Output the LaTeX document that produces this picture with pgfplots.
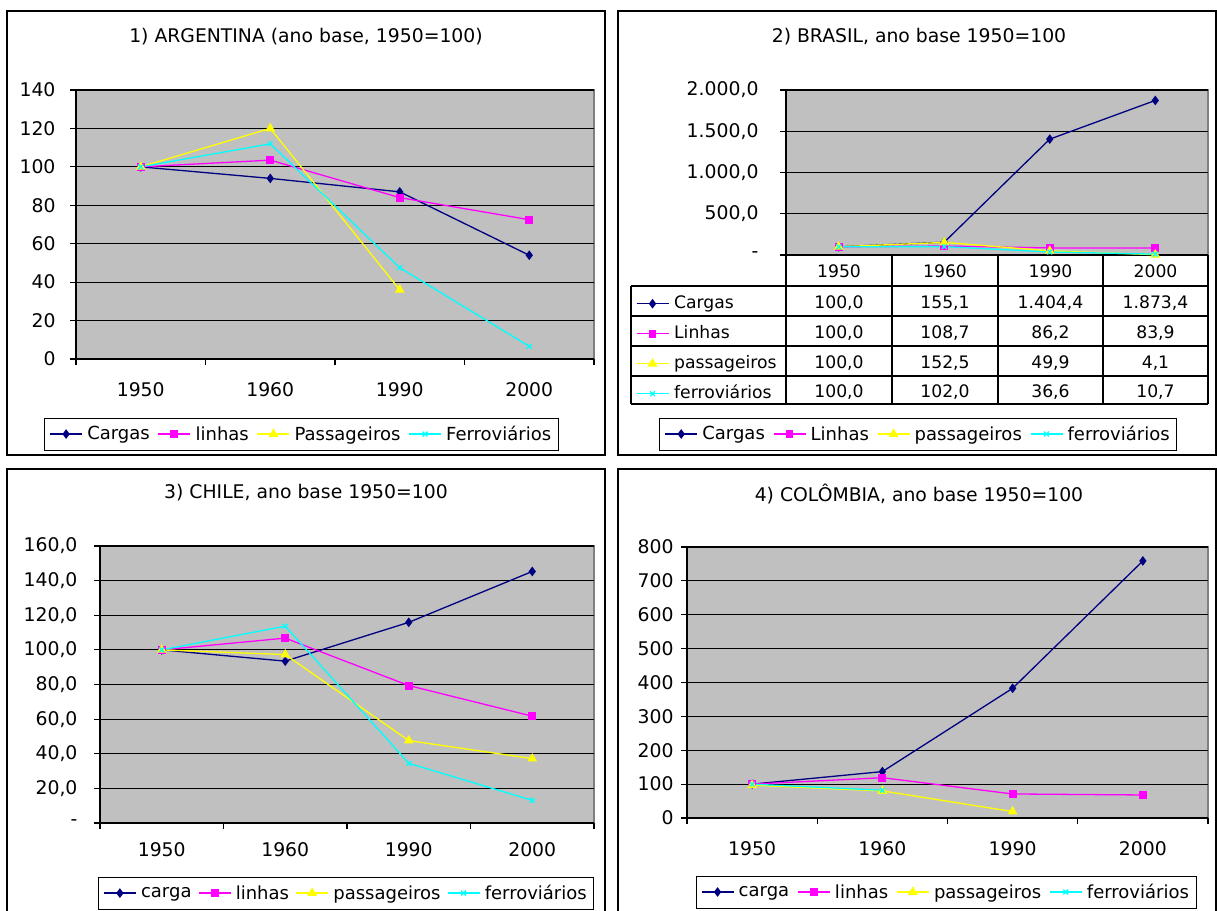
\documentclass[border=0pt]{standalone}
\usepackage{fontspec}
\setmainfont{DejaVu Sans}
\usepackage{pgfplots}
\pgfplotsset{compat=1.18}
\definecolor{cnavy}{RGB}{0,0,128}
\definecolor{cmag}{RGB}{255,0,255}
\definecolor{cyel}{RGB}{255,255,0}
\definecolor{ccyan}{RGB}{0,255,255}
\definecolor{plotgray}{RGB}{192,192,192}
\definecolor{bordergray}{RGB}{128,128,128}
\newcommand{\bigf}{\fontsize{18.8}{22}\selectfont}
\newcommand{\legf}{\fontsize{18}{21}\selectfont}
\newcommand{\tabf}{\fontsize{17.2}{20}\selectfont}
\pgfplotsset{
  cargas/.style={cnavy, line width=1.3pt, mark=diamond*, mark size=3.8pt, mark options={solid, fill=cnavy}},
  linhas/.style={cmag, line width=1.3pt, mark=square*, mark size=3.3pt, mark options={solid, fill=cmag}},
  pass/.style={cyel, line width=1.3pt, mark=triangle*, mark size=4.4pt, mark options={solid, fill=cyel}},
  ferro/.style={ccyan, line width=1.3pt, mark=x, mark size=3.4pt, mark options={solid}},
  panel/.style={
    scale only axis, clip=false,
    axis background/.style={fill=plotgray, draw=bordergray, line width=1.2pt},
    axis lines*=left, axis line style={-, black, line width=1.3pt},
    xmin=0.5, xmax=4.5,
    xtick={1,2,3,4}, xticklabels={1950,1960,1990,2000},
    major x tick style={draw=none},
    minor xtick={0.5,1.5,2.5,3.5,4.5},
    minor x tick style={black, line width=1.2pt},
    y tick style={black, line width=1.2pt},
    tick align=outside, major tick length=6pt, minor tick length=6pt,
    ymajorgrids, major grid style={black, line width=1.2pt},
    tick label style={font=\bigf},
    yticklabel style={xshift=-4pt},
    xticklabel style={yshift=-14pt},
    legend columns=4,
    legend style={draw=black, line width=0.8pt, fill=white, font=\legf, anchor=center,
      inner xsep=5pt, inner ysep=6pt,
      /tikz/every odd column/.append style={column sep=2.5pt},
      /tikz/every even column/.append style={column sep=6pt}},
    legend image code/.code={\draw[mark repeat=2,mark phase=2] plot coordinates {(0pt,0pt) (16pt,0pt) (32pt,0pt)};},
  },
}
\begin{document}
\begin{tikzpicture}
\path[use as bounding box] (0,0) rectangle (1217pt,-910pt);
% panel frames
\draw[line width=1.5pt] (7pt,-11pt) rectangle (605pt,-455pt);
\draw[line width=1.5pt] (618pt,-11pt) rectangle (1216pt,-455pt);
\draw[line width=1.5pt] (7pt,-469pt) rectangle (605pt,-912pt);
\draw[line width=1.5pt] (618pt,-469pt) rectangle (1216pt,-912pt);
% titles
\node[font=\bigf] at (306pt,-37pt) {1) ARGENTINA (ano base, 1950=100)};
\node[font=\bigf] at (919pt,-37pt) {2) BRASIL, ano base 1950=100};
\node[font=\bigf] at (306pt,-493pt) {3) CHILE, ano base 1950=100};
\node[font=\bigf] at (919pt,-494pt) {4) COLÔMBIA, ano base 1950=100};

% 1) Argentina
\begin{axis}[panel, at={(76pt,-359pt)}, anchor=south west, width=518pt, height=269pt,
  ymin=0, ymax=140, ytick={0,20,...,140}, yticklabels={0,20,40,60,80,100,120,140},
  yticklabel style={xshift=-7pt},
  legend style={at={(0.435,-0.279)}}]
\addplot[cargas] coordinates {(1,100) (2,94) (3,87) (4,54)};
\addplot[linhas] coordinates {(1,100) (2,103.5) (3,84) (4,72.5)};
\addplot[pass] coordinates {(1,100) (2,120) (3,36)};
\addplot[ferro] coordinates {(1,100) (2,112) (3,47.5) (4,6.6)};
\legend{Cargas,linhas,Passageiros,Ferroviários}
\end{axis}

% 2) Brasil
\begin{axis}[panel, at={(786pt,-255pt)}, anchor=south west, width=422pt, height=165pt,
  ymin=0, ymax=2000, ytick={0,500,...,2000}, yticklabels={-,{500,0},{1.000,0},{1.500,0},{2.000,0}},
  xtick=\empty, minor xtick={}, yticklabel style={xshift=-14pt},
  legend style={at={(0.313,-1.085)}}]
\addplot[cargas] coordinates {(1,100.0) (2,155.1) (3,1404.4) (4,1873.4)};
\addplot[linhas] coordinates {(1,100.0) (2,108.7) (3,86.2) (4,83.9)};
\addplot[pass] coordinates {(1,100.0) (2,152.5) (3,49.9) (4,4.1)};
\addplot[ferro] coordinates {(1,100.0) (2,102.0) (3,36.6) (4,10.7)};
\legend{Cargas,Linhas,passageiros,ferroviários}
\end{axis}
% table legend keys
\begin{axis}[at={(631pt,-404pt)}, anchor=south west, scale only axis, width=155pt, height=118pt,
  hide axis, xmin=0, xmax=1, ymin=0, ymax=1,
  legend columns=1,
  legend style={draw=none, fill=none, font=\tabf, at={(0.03,1)}, anchor=north west, yshift=-8pt,
    inner sep=0pt, row sep=11pt, legend cell align=left,
    /tikz/every odd column/.append style={column sep=3pt},
    nodes={inner ysep=0pt, text height=14pt, text depth=5pt}},
  legend image code/.code={\draw[mark repeat=2,mark phase=2] plot coordinates {(0pt,0pt) (16pt,0pt) (32pt,0pt)};}]
\addlegendimage{cargas}\addlegendentry{Cargas}
\addlegendimage{linhas}\addlegendentry{Linhas}
\addlegendimage{pass}\addlegendentry{passageiros}
\addlegendimage{ferro}\addlegendentry{ferroviários}
\end{axis}
% table grid
\begin{scope}[line width=1.3pt]
\draw (786pt,-255pt) -- (786pt,-404pt);
\foreach \x in {892,998,1103,1208} \draw (\x pt,-255pt) -- (\x pt,-404pt);
\foreach \y in {286,316,346,376,404} \draw (631pt,-\y pt) -- (1208pt,-\y pt);
\draw (631pt,-286pt) -- (631pt,-404pt);
\end{scope}
\begin{scope}[font=\tabf]
\foreach \x/\t in {839/1950,945/1960,1050.5/1990,1155.5/2000}
  \node[anchor=base] at (\x pt,-277pt) {\t};
\foreach \x/\t in {839/{100,0},945/{155,1},1050.5/{1.404,4},1155.5/{1.873,4}}
  \node[anchor=base] at (\x pt,-308pt) {\t};
\foreach \x/\t in {839/{100,0},945/{108,7},1050.5/{86,2},1155.5/{83,9}}
  \node[anchor=base] at (\x pt,-338pt) {\t};
\foreach \x/\t in {839/{100,0},945/{152,5},1050.5/{49,9},1155.5/{4,1}}
  \node[anchor=base] at (\x pt,-368pt) {\t};
\foreach \x/\t in {839/{100,0},945/{102,0},1050.5/{36,6},1155.5/{10,7}}
  \node[anchor=base] at (\x pt,-397pt) {\t};
\end{scope}

% 3) Chile
\begin{axis}[panel, at={(100pt,-823pt)}, anchor=south west, width=494pt, height=277pt,
  ymin=0, ymax=160, ytick={0,20,...,160},
  yticklabels={-,{20,0},{40,0},{60,0},{80,0},{100,0},{120,0},{140,0},{160,0}},
  yticklabel style={xshift=-9pt}, xticklabel style={yshift=4pt},
  legend style={at={(0.498,-0.253)}, /tikz/every even column/.append style={column sep=4.5pt}}]
\addplot[cargas] coordinates {(1,100) (2,93.5) (3,115.9) (4,145.3)};
\addplot[linhas] coordinates {(1,100) (2,106.8) (3,79.4) (4,61.7)};
\addplot[pass] coordinates {(1,100) (2,97.3) (3,47.6) (4,37.2)};
\addplot[ferro] coordinates {(1,100) (2,113.7) (3,34.5) (4,13.1)};
\legend{carga,linhas,passageiros,ferroviários}
\end{axis}

% 4) Colombia
\begin{axis}[panel, at={(687pt,-818pt)}, anchor=south west, width=521pt, height=271pt,
  ymin=0, ymax=800, ytick={0,100,...,800}, yticklabels={0,100,200,300,400,500,600,700,800},
  legend style={at={(0.497,-0.273)}}]
\addplot[cargas] coordinates {(1,100) (2,137) (3,383) (4,759)};
\addplot[linhas] coordinates {(1,100) (2,119) (3,71) (4,68)};
\addplot[pass] coordinates {(1,97) (2,80) (3,19)};
\addplot[ferro] coordinates {(1,100) (2,82)};
\legend{carga,linhas,passageiros,ferroviários}
\end{axis}
\end{tikzpicture}
\end{document}
